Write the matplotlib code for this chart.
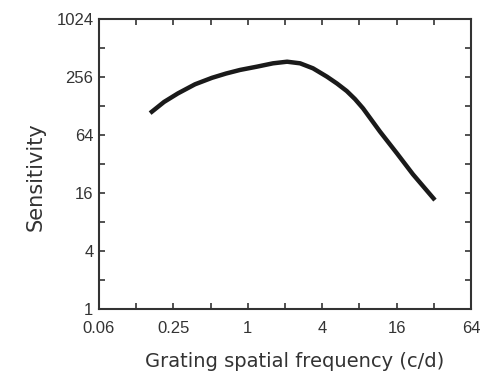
import numpy as np
import matplotlib.pyplot as plt

plt.rcParams['font.family'] = ['Liberation Sans', 'DejaVu Sans']

# contrast sensitivity function
freq = [0.162, 0.21, 0.272, 0.374, 0.513, 0.666, 0.865, 1.19, 1.60,
        2.08, 2.65, 3.37, 4.37, 5.27, 6.32, 7.37, 8.56, 11.75, 16.1,
        21.7, 32.7]
sens = [108, 141, 173, 215, 251, 278, 303, 328, 355,
        369, 355, 315, 258, 219, 183, 151, 121, 69.3, 41.3,
        25.0, 13.5]

x_ticks = [2.0 ** k for k in range(-4, 7)]
x_labels = ['0.06', '', '0.25', '', '1', '', '4', '', '16', '', '64']
y_ticks = [2.0 ** k for k in range(0, 11)]
y_labels = ['1', '', '4', '', '16', '', '64', '', '256', '', '1024']

fig = plt.figure(figsize=(4.92, 3.74), dpi=100)
ax = fig.add_axes([0.2012, 0.1738, 0.7561, 0.7754])

ax.plot(freq, sens, color='#1a1a1a', lw=3.2, solid_capstyle='butt',
        solid_joinstyle='round')

ax.set_xscale('log', base=2)
ax.set_yscale('log', base=2)
ax.set_xlim(2.0 ** -4, 64)
ax.set_ylim(1, 1024)

ax.set_xticks(x_ticks)
ax.set_xticklabels(x_labels)
ax.set_yticks(y_ticks)
ax.set_yticklabels(y_labels)
ax.minorticks_off()

ax.tick_params(direction='in', length=4, width=1.2, color='#333333',
               top=True, right=True, labelsize=12, labelcolor='#333333')
ax.tick_params(axis='x', pad=9)
ax.tick_params(axis='y', pad=4)
for s in ax.spines.values():
    s.set_linewidth(1.5)
    s.set_color('#333333')

ax.set_xlabel('Grating spatial frequency (c/d)', fontsize=14,
              color='#333333', family='DejaVu Sans')
ax.set_ylabel('Sensitivity', fontsize=15, color='#333333',
              family='DejaVu Sans')
ax.xaxis.set_label_coords(0.527, -0.148)
ax.yaxis.set_label_coords(-0.143, 0.455)

fig.savefig('out.png', dpi=100)
